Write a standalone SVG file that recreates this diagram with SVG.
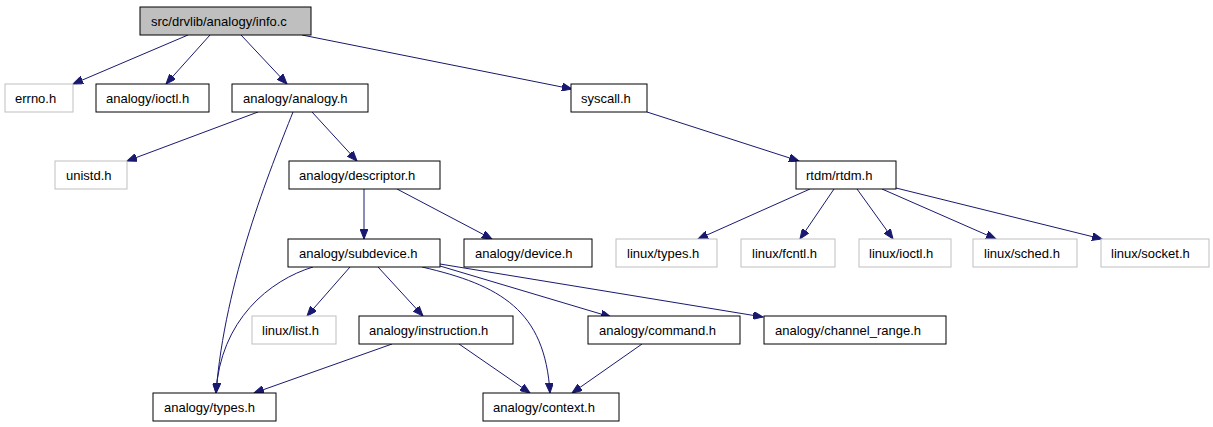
<svg xmlns="http://www.w3.org/2000/svg" width="1213" height="427" viewBox="0 0 1213 427">
<defs>
<style>
.n rect{fill:#ffffff;stroke:#000000;stroke-width:1}
.n.g rect{stroke:#bfbfbf}
.n.root rect{fill:#bfbfbf}
.n text{font-family:"Liberation Sans",Arial,sans-serif;font-size:13px;fill:#000000}
.e path{fill:none;stroke:#191970;stroke-width:1;marker-end:url(#ah)}
</style>
<marker id="ah" markerUnits="userSpaceOnUse" markerWidth="11" markerHeight="8" refX="10" refY="4" orient="auto">
<path d="M0,0 L10,4 L0,8 z" fill="#191970" stroke="#191970" stroke-width="1"/>
</marker>
</defs>
<rect width="1213" height="427" fill="#ffffff"/>
<g id="connectors" class="e">
<path d="M188,35 L73,84"/>
<path d="M210,35 L166,84"/>
<path d="M241,35 L287,84"/>
<path d="M302,35 L572,89"/>
<path d="M647,112 L799,161"/>
<path d="M258,112 L127,161"/>
<path d="M312,112 L357,161"/>
<path d="M293,112 C270,170 225,280 216,393"/>
<path d="M364,189 L364,239"/>
<path d="M397,189 L492,239"/>
<path d="M810,189 L698,239"/>
<path d="M834,189 L800,239"/>
<path d="M857,189 L893,239"/>
<path d="M882,189 L996,239"/>
<path d="M896,188 L1102,239"/>
<path d="M313,267 C270,280 220,320 216,393"/>
<path d="M350,267 L307,316"/>
<path d="M378,267 L423,316"/>
<path d="M422,267 C500,285 545,310 550,393"/>
<path d="M440,266 L611,317"/>
<path d="M440,264 L763,317"/>
<path d="M392,344 L254,393"/>
<path d="M459,344 L530,393"/>
<path d="M642,344 L572,393"/>
</g>
<g id="info_c" class="n root"><rect x="140" y="7" width="171" height="28"/><text x="151" y="26">src/drvlib/analogy/info.c</text></g>
<g id="errno_h" class="n g"><rect x="5" y="84" width="68" height="28"/><text x="15" y="103">errno.h</text></g>
<g id="analogy_ioctl_h" class="n"><rect x="96" y="84" width="113" height="28"/><text x="106" y="103">analogy/ioctl.h</text></g>
<g id="analogy_analogy_h" class="n"><rect x="232" y="84" width="136" height="28"/><text x="243" y="103">analogy/analogy.h</text></g>
<g id="syscall_h" class="n"><rect x="571" y="84" width="76" height="28"/><text x="581" y="103">syscall.h</text></g>
<g id="unistd_h" class="n g"><rect x="55" y="161" width="72" height="28"/><text x="66" y="180">unistd.h</text></g>
<g id="analogy_descriptor_h" class="n"><rect x="289" y="161" width="151" height="28"/><text x="299" y="180">analogy/descriptor.h</text></g>
<g id="rtdm_rtdm_h" class="n"><rect x="796" y="161" width="100" height="28"/><text x="806" y="180">rtdm/rtdm.h</text></g>
<g id="analogy_subdevice_h" class="n"><rect x="288" y="239" width="152" height="28"/><text x="299" y="258">analogy/subdevice.h</text></g>
<g id="analogy_device_h" class="n"><rect x="464" y="239" width="128" height="28"/><text x="475" y="258">analogy/device.h</text></g>
<g id="linux_types_h" class="n g"><rect x="616" y="239" width="101" height="28"/><text x="627" y="258">linux/types.h</text></g>
<g id="linux_fcntl_h" class="n g"><rect x="741" y="239" width="94" height="28"/><text x="752" y="258">linux/fcntl.h</text></g>
<g id="linux_ioctl_h" class="n g"><rect x="859" y="239" width="92" height="28"/><text x="869" y="258">linux/ioctl.h</text></g>
<g id="linux_sched_h" class="n g"><rect x="973" y="239" width="104" height="28"/><text x="984" y="258">linux/sched.h</text></g>
<g id="linux_socket_h" class="n g"><rect x="1101" y="239" width="108" height="28"/><text x="1111" y="258">linux/socket.h</text></g>
<g id="linux_list_h" class="n g"><rect x="252" y="316" width="84" height="28"/><text x="262" y="335">linux/list.h</text></g>
<g id="analogy_instruction_h" class="n"><rect x="359" y="316" width="154" height="28"/><text x="369" y="335">analogy/instruction.h</text></g>
<g id="analogy_command_h" class="n"><rect x="588" y="316" width="152" height="28"/><text x="599" y="335">analogy/command.h</text></g>
<g id="analogy_channel_range_h" class="n"><rect x="764" y="316" width="182" height="28"/><text x="775" y="335">analogy/channel_range.h</text></g>
<g id="analogy_types_h" class="n"><rect x="153" y="393" width="123" height="28"/><text x="164" y="412">analogy/types.h</text></g>
<g id="analogy_context_h" class="n"><rect x="483" y="393" width="136" height="28"/><text x="493" y="412">analogy/context.h</text></g>
</svg>
